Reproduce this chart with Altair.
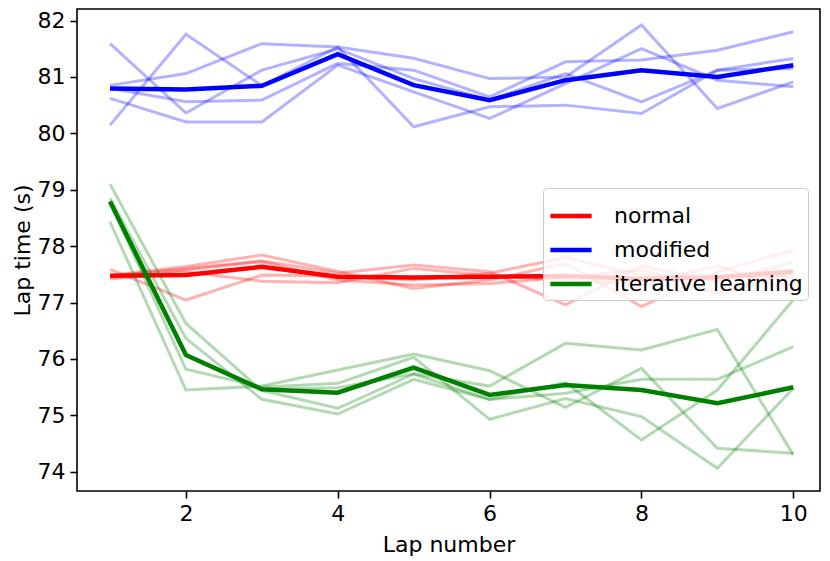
import altair as alt
import pandas as pd

laps = [1, 2, 3, 4, 5, 6, 7, 8, 9, 10]

# normal (red) individual runs
normal_runs = [
    [77.59, 77.045, 77.488, 77.47, 77.40, 77.52, 77.80, 77.48, 77.45, 77.46],
    [77.48, 77.64, 77.842, 77.55, 77.25, 77.40, 77.69, 76.93, 77.55, 77.93],
    [77.47, 77.606, 77.74, 77.52, 77.665, 77.547, 76.96, 77.65, 77.37, 77.72],
    [77.45, 77.58, 77.724, 77.40, 77.31, 77.34, 77.45, 77.58, 77.16, 77.55],
    [77.42, 77.547, 77.38, 77.35, 77.606, 77.48, 77.40, 77.32, 77.65, 77.22],
]
normal_mean = [77.476, 77.488, 77.635, 77.458, 77.446, 77.458, 77.47, 77.42, 77.45, 77.55]

# modified (blue) individual runs
modified_runs = [
    [81.59, 80.36, 81.12, 81.50, 80.97, 80.59, 81.06, 80.558, 81.12, 81.15],
    [80.85, 81.06, 81.59, 81.53, 81.33, 80.97, 81.00, 81.92, 80.44, 80.913],
    [80.80, 80.56, 80.59, 81.24, 81.12, 80.647, 81.267, 81.30, 81.474, 81.80],
    [80.62, 80.20, 80.20, 81.21, 80.736, 80.263, 80.883, 81.503, 80.942, 80.824],
    [80.145, 81.757, 80.843, 81.53, 80.116, 80.47, 80.50, 80.352, 81.12, 81.326],
]
modified_mean = [80.795, 80.777, 80.843, 81.403, 80.854, 80.588, 80.942, 81.12, 81.0, 81.208]

# iterative learning (green) individual runs
iterative_runs = [
    [79.10, 76.63, 75.44, 75.126, 75.734, 75.285, 75.58, 74.565, 75.45, 77.05],
    [78.85, 76.366, 75.285, 75.025, 75.64, 75.281, 75.394, 75.64, 75.64, 76.218],
    [78.80, 76.07, 75.46, 75.49, 75.738, 75.52, 76.277, 76.159, 76.525, 74.30],
    [78.77, 75.817, 75.50, 75.569, 76.03, 74.931, 75.30, 74.98, 74.063, 75.48],
    [78.43, 75.45, 75.52, 75.805, 76.088, 75.793, 75.144, 75.834, 74.417, 74.329],
]
iterative_mean = [78.79, 76.07, 75.462, 75.403, 75.846, 75.362, 75.539, 75.45, 75.215, 75.498]

names = ["normal", "modified", "iterative learning"]
colors = ["#ff0000", "#0000ff", "#008000"]
groups = [
    ("normal", normal_runs, normal_mean, colors[0]),
    ("modified", modified_runs, modified_mean, colors[1]),
    ("iterative learning", iterative_runs, iterative_mean, colors[2]),
]

FONT = "DejaVu Sans"
FS = 22

xscale = alt.Scale(domain=[0.565, 10.352], nice=False, zero=False)
yscale = alt.Scale(domain=[73.66, 82.204], nice=False, zero=False)
xaxis = alt.Axis(values=[2, 4, 6, 8, 10], format="d", title="Lap number", grid=False)
yaxis = alt.Axis(values=[74, 75, 76, 77, 78, 79, 80, 81, 82], format="d",
                 title="Lap time (s)", grid=False)
cscale = alt.Scale(domain=names, range=colors)

legend = alt.Legend(
    orient="none", legendX=466, legendY=179, title=None,
    symbolType="stroke", symbolSize=1700, symbolStrokeWidth=4.5,
    labelFont=FONT, labelFontSize=FS, labelColor="black", labelLimit=0,
    labelOffset=20, padding=5, rowPadding=-11,
    fillColor="rgba(255,255,255,0.8)", strokeColor="#cccccc",
    cornerRadius=4,
)

layers = []
for name, runs, mean, col in groups:
    rows = []
    for r, run in enumerate(runs):
        for lap, v in zip(laps, run):
            rows.append({"lap": lap, "time": v, "run": r})
    thin = alt.Chart(pd.DataFrame(rows)).mark_line(strokeWidth=3, opacity=0.3).encode(
        x=alt.X("lap:Q", scale=xscale, axis=xaxis),
        y=alt.Y("time:Q", scale=yscale, axis=yaxis),
        color=alt.value(col),
        detail="run:N",
    )
    mdf = pd.DataFrame({"lap": laps, "time": mean, "method": name})
    thick = alt.Chart(mdf).mark_line(strokeWidth=4.5).encode(
        x=alt.X("lap:Q", scale=xscale, axis=xaxis),
        y=alt.Y("time:Q", scale=yscale, axis=yaxis),
        color=alt.Color("method:N", scale=cscale, legend=legend),
    )
    layers.extend([thin, thick])

chart = alt.layer(*layers).properties(
    width=743, height=482,
    autosize="none",
    padding={"left": 69, "top": 1, "right": 2, "bottom": 70},
).configure_view(stroke="black", strokeWidth=1.6).configure_axis(
    labelFont=FONT, labelFontSize=FS, labelColor="black",
    titleFont=FONT, titleFontSize=FS, titleFontWeight="normal", titleColor="black",
    tickColor="black", tickWidth=1.6, tickSize=7, labelPadding=5,
    domain=False,
).configure_axisY(titlePadding=3).configure_axisX(titlePadding=10)

chart.save("out.html", embed_options={"renderer": "svg", "actions": False})
